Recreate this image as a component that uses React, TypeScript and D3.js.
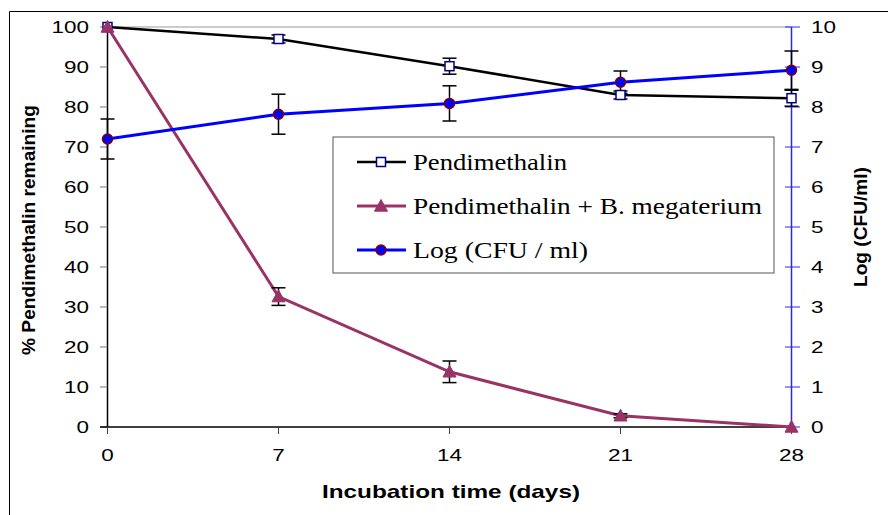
import React from "react";
import * as d3 from "d3";

const days = [0, 7, 14, 21, 28];
const pendimethalin = [100, 97, 90.2, 83, 82.2];
const pendimethalinErr = [0, 1, 2, 1, 2];
const pendMega = [100, 32.6, 13.8, 2.8, 0];
const pendMegaErr = [0, 2.2, 2.7, 0.5, 0];
const logCfu = [7.2, 7.82, 8.09, 8.62, 8.92];
const logCfuErr = [0.5, 0.5, 0.44, 0.28, 0.48];
const leftTicks = [0, 10, 20, 30, 40, 50, 60, 70, 80, 90, 100];
const rightTicks = [0, 1, 2, 3, 4, 5, 6, 7, 8, 9, 10];
const legendLabels = ["Pendimethalin", "Pendimethalin + B. megaterium", "Log (CFU / ml)"];

const W = 888, H = 515;
const x = d3.scaleLinear().domain([0, 28]).range([107.5, 791.5]);
const yL = d3.scaleLinear().domain([0, 100]).range([427, 27]);
const yR = d3.scaleLinear().domain([0, 10]).range([427, 27]);

const BLACK = "#000000";
const PURPLE = "#993366";
const BLUE = "#0000FF";
const NAVY = "#000080";
const DARKRED = "#800000";
const AXISBLUE = "#2a2ae6";

const tickFont = "'Liberation Sans', Arial, sans-serif";
const digitPitch = 12.5;

function ErrBars({ vals, errs, y }: { vals: number[]; errs: number[]; y: d3.ScaleLinear<number, number> }) {
  return (
    <g stroke={BLACK} strokeWidth={1.5}>
      {days.map((d, i) => {
        if (!errs[i]) return null;
        const cx = x(d);
        const y1 = y(vals[i] + errs[i]);
        const y2 = y(vals[i] - errs[i]);
        return (
          <g key={i}>
            <line x1={cx} x2={cx} y1={y1} y2={y2} />
            <line x1={cx - 7} x2={cx + 7} y1={y1} y2={y1} />
            <line x1={cx - 7} x2={cx + 7} y1={y2} y2={y2} />
          </g>
        );
      })}
    </g>
  );
}

function Square({ cx, cy }: { cx: number; cy: number }) {
  return <rect x={cx - 4.5} y={cy - 4.5} width={9} height={9} fill="#fff" stroke={NAVY} strokeWidth={1.5} />;
}
function Tri({ cx, cy }: { cx: number; cy: number }) {
  const s = 6.5;
  return <path d={`M${cx},${cy - s}L${cx + s},${cy + s * 0.8}L${cx - s},${cy + s * 0.8}Z`} fill={PURPLE} stroke={PURPLE} strokeWidth={1} />;
}
function Dot({ cx, cy }: { cx: number; cy: number }) {
  return <circle cx={cx} cy={cy} r={5} fill={BLUE} stroke={DARKRED} strokeWidth={1.5} />;
}

export default function App() {
  const lineL = d3.line<number>().x((_, i) => x(days[i])).y((v) => yL(v));
  const lineR = d3.line<number>().x((_, i) => x(days[i])).y((v) => yR(v));
  const legendY = [162, 206, 250];
  return (
    <svg width={W} height={H} style={{ position: "absolute", left: 0, top: 0, background: "#fff" }}>
      {/* outer border */}
      <line x1={9.5} x2={W} y1={11.5} y2={11.5} stroke="#000" strokeWidth={1} />
      <line x1={9.5} x2={9.5} y1={11.5} y2={H} stroke="#000" strokeWidth={1} />

      {/* plot area top line */}
      <line x1={x(0)} x2={x(28)} y1={27} y2={27} stroke="#9a9a9a" strokeWidth={1.2} />

      {/* left axis */}
      <line x1={x(0)} x2={x(0)} y1={27} y2={427} stroke="#000" strokeWidth={1.5} />
      {leftTicks.map((t) => (
        <g key={t}>
          <line x1={100} x2={x(0)} y1={yL(t)} y2={yL(t)} stroke="#777" strokeWidth={1} />
          <text x={89} y={yL(t) + 6} textAnchor="end" fontFamily={tickFont} fontSize={17}
            textLength={String(t).length * digitPitch} lengthAdjust="spacingAndGlyphs">{t}</text>
        </g>
      ))}

      {/* bottom axis */}
      <line x1={100} x2={x(28)} y1={427} y2={427} stroke="#000" strokeWidth={1.5} />
      {days.map((d) => (
        <g key={d}>
          <line x1={x(d)} x2={x(d)} y1={427} y2={434} stroke="#444" strokeWidth={1} />
          <text x={x(d)} y={461} textAnchor="middle" fontFamily={tickFont} fontSize={17}
            textLength={String(d).length * digitPitch} lengthAdjust="spacingAndGlyphs">{d}</text>
        </g>
      ))}

      {/* right axis */}
      <line x1={x(28)} x2={x(28)} y1={27} y2={427} stroke={AXISBLUE} strokeWidth={1.5} />
      {rightTicks.map((t) => (
        <g key={t}>
          <line x1={785} x2={800} y1={yR(t)} y2={yR(t)} stroke={AXISBLUE} strokeWidth={1} />
          <text x={811} y={yR(t) + 6} textAnchor="start" fontFamily={tickFont} fontSize={17}
            textLength={String(t).length * digitPitch} lengthAdjust="spacingAndGlyphs">{t}</text>
        </g>
      ))}

      {/* axis titles */}
      <text transform="translate(35,230) rotate(-90)" textAnchor="middle" fontFamily={tickFont} fontWeight="bold"
        fontSize={19} textLength={250} lengthAdjust="spacingAndGlyphs">% Pendimethalin remaining</text>
      <text transform="translate(867,227) rotate(-90)" textAnchor="middle" fontFamily={tickFont} fontWeight="bold"
        fontSize={19} textLength={120} lengthAdjust="spacingAndGlyphs">Log (CFU/ml)</text>
      <text x={451} y={498} textAnchor="middle" fontFamily={tickFont} fontWeight="bold" fontSize={19}
        textLength={258} lengthAdjust="spacingAndGlyphs">Incubation time (days)</text>

      {/* series lines */}
      <path d={lineL(pendimethalin) || ""} fill="none" stroke={BLACK} strokeWidth={2.5} />
      <path d={lineL(pendMega) || ""} fill="none" stroke={PURPLE} strokeWidth={3} />
      <path d={lineR(logCfu) || ""} fill="none" stroke={BLUE} strokeWidth={3} />

      {/* error bars */}
      <ErrBars vals={pendimethalin} errs={pendimethalinErr} y={yL} />
      <ErrBars vals={pendMega} errs={pendMegaErr} y={yL} />
      <ErrBars vals={logCfu} errs={logCfuErr} y={yR} />

      {/* markers */}
      {pendimethalin.map((v, i) => <Square key={"s" + i} cx={x(days[i])} cy={yL(v)} />)}
      {pendMega.map((v, i) => <Tri key={"t" + i} cx={x(days[i])} cy={yL(v)} />)}
      {logCfu.map((v, i) => <Dot key={"c" + i} cx={x(days[i])} cy={yR(v)} />)}

      {/* legend */}
      <rect x={333} y={137} width={441} height={136} fill="#fff" stroke="#555" strokeWidth={1} />
      {legendLabels.map((lab, i) => {
        const ly = legendY[i];
        const color = i === 0 ? BLACK : i === 1 ? PURPLE : BLUE;
        const widths = [154, 349, 175];
        return (
          <g key={lab}>
            <line x1={357} x2={406} y1={ly} y2={ly} stroke={color} strokeWidth={i === 0 ? 2.5 : 3} />
            {i === 0 ? <Square cx={381} cy={ly} /> : i === 1 ? <Tri cx={381} cy={ly} /> : <Dot cx={381} cy={ly} />}
            <text x={413} y={ly + 8} fontFamily="'Liberation Serif', 'Times New Roman', serif" fontSize={23}
              textLength={widths[i]} lengthAdjust="spacingAndGlyphs">{lab}</text>
          </g>
        );
      })}
    </svg>
  );
}
